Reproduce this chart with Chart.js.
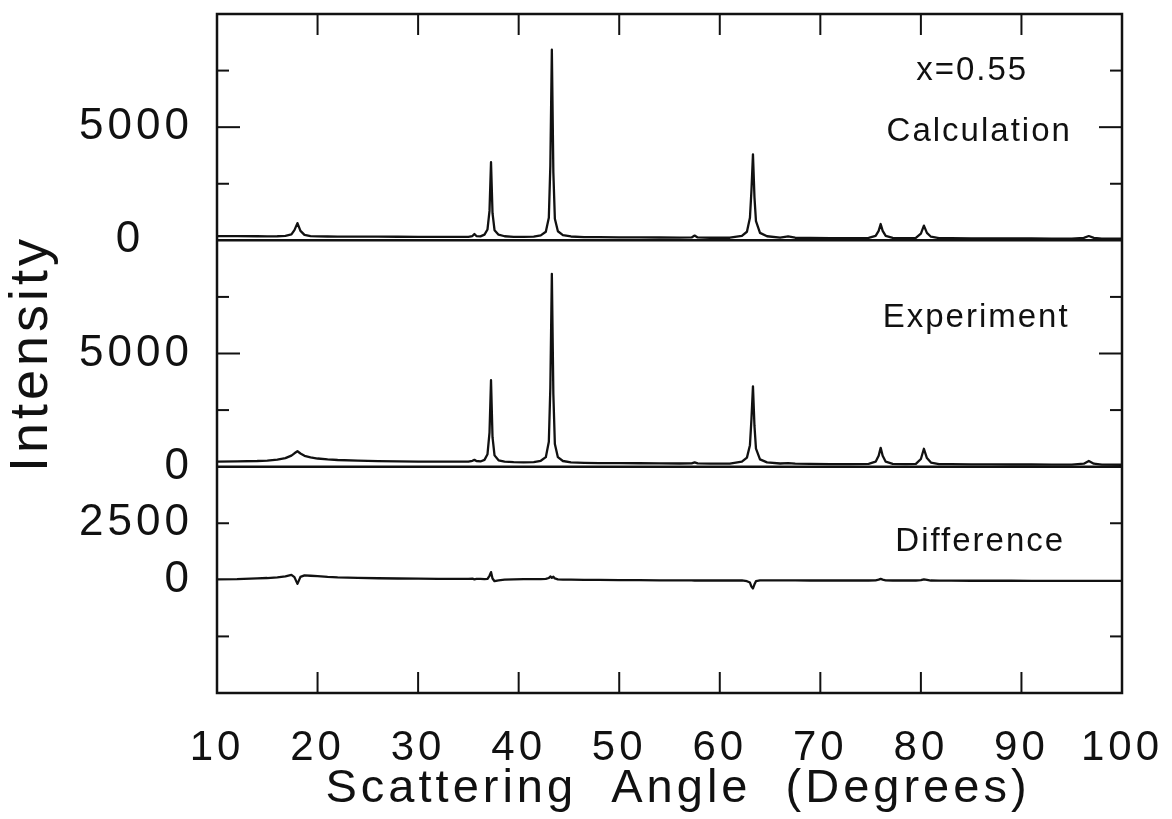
<!DOCTYPE html>
<html>
<head>
<meta charset="utf-8">
<title>Intensity vs scattering angle, x=0.55</title>
<script src="https://cdn.jsdelivr.net/npm/chart.js@4"></script>
<style>
  body { margin: 0; background: #fff; }
</style>
</head>
<body>
<canvas id="myChart" width="1172" height="819"></canvas>
<script>
// scattering angle in degrees (sampled closer together round the peaks)
const angles = [
  10, 12, 14, 15, 16, 16.8, 17.4, 17.7, 18.0, 18.3,
  18.7, 19.3, 20, 21, 22, 24, 26, 28, 30, 32,
  34, 35.0, 35.4, 35.6, 35.8, 36.2, 36.6, 36.9, 37.1, 37.25,
  37.4, 37.6, 38.0, 38.6, 39.5, 40.5, 41.5, 42.2, 42.7, 43.0,
  43.15, 43.3, 43.45, 43.6, 43.9, 44.4, 45.2, 46.5, 48, 50,
  52, 54, 56, 57.2, 57.5, 57.8, 59, 61, 62.2, 62.7,
  63.0, 63.15, 63.3, 63.45, 63.6, 64.0, 64.7, 66, 66.8, 67.5,
  69, 71, 73, 74.8, 75.5, 75.8, 76.0, 76.2, 76.5, 77.2,
  78.5, 79.5, 80.0, 80.3, 80.6, 81.0, 81.8, 83, 85, 87,
  89, 91, 93, 95, 96.2, 96.7, 97.2, 98, 100
];

const calculated = [
  190, 185, 180, 178, 180, 195, 260, 450, 760, 420,
  240, 190, 175, 170, 168, 165, 160, 158, 155, 152,
  150, 155, 190, 280, 190, 175, 250, 480, 1300, 3450,
  1200, 450, 250, 180, 155, 150, 160, 220, 380, 1000,
  3300, 8420, 3000, 950, 400, 230, 170, 145, 140, 135,
  130, 125, 120, 130, 210, 130, 115, 115, 200, 380,
  1000, 2200, 3800, 1900, 850, 330, 180, 120, 170, 115,
  105, 100, 100, 110, 200, 420, 720, 420, 200, 110,
  100, 110, 300, 650, 330, 160, 100, 95, 90, 85,
  80, 80, 75, 75, 110, 190, 110, 75, 70
];

const experiment = [
  220, 230, 250, 270, 310, 380, 490, 590, 680, 580,
  480, 410, 360, 320, 295, 265, 245, 235, 225, 220,
  220, 225, 260, 300, 250, 230, 300, 550, 1500, 3820,
  1300, 500, 280, 220, 200, 190, 200, 260, 420, 1100,
  3500, 8520, 3200, 1000, 420, 250, 190, 170, 160, 155,
  150, 145, 140, 145, 190, 145, 135, 135, 220, 400,
  950, 2100, 3550, 1800, 800, 320, 190, 140, 160, 130,
  120, 115, 115, 125, 220, 480, 830, 480, 220, 125,
  115, 125, 340, 790, 380, 180, 115, 110, 105, 100,
  95, 95, 90, 90, 130, 250, 130, 90, 85
];

const difference = [
  20, 30, 60, 80, 110, 150, 220, 120, -180, 130,
  200, 180, 160, 130, 110, 90, 70, 60, 50, 40,
  40, 45, 50, 20, 40, 40, 30, 40, 180, 340,
  60, -60, -20, 10, 20, 30, 30, 30, 40, 80,
  150, 90, 140, 60, 20, 10, 10, 0, 0, -10,
  -10, -20, -20, -20, -30, -20, -30, -30, -20, -60,
  -120, -300, -380, -200, -60, -20, -20, -20, -20, -20,
  -30, -30, -30, -30, -20, 10, 40, 10, -20, -30,
  -30, -30, -10, 20, 0, -30, -35, -35, -40, -40,
  -40, -45, -45, -45, -45, -45, -45, -45, -50
];

const angleTicks = [10, 20, 30, 40, 50, 60, 70, 80, 90, 100];
const calcTicks = [0, 5000];
const exptTicks = [0, 5000];
const diffTicks = [0, 2500];
// small inward ticks on both sides of each panel
const innerTicks = {
  yCalc: [2500, 5000, 7500],
  yExp: [2500, 5000, 7500],
  yDiff: [-2500, 2500]
};
const longTick = 5000;

const panelNotes = [
  {text: 'x=0.55', axis: 'yCalc', angle: 85.1, value: 7480},
  {text: 'Calculation', axis: 'yCalc', angle: 85.8, value: 4790},
  {text: 'Experiment', axis: 'yExp', angle: 85.5, value: 6580},
  {text: 'Difference', axis: 'yDiff', angle: 85.9, value: 1670}
];

const family = 'Liberation Sans, Arial, Helvetica, sans-serif';
const ink = '#111';

function series(values, axisId) {
  return {
    data: angles.map((a, i) => ({x: a, y: values[i]})),
    yAxisID: axisId,
    borderColor: ink,
    borderWidth: 2.3,
    borderJoinStyle: 'round',
    pointRadius: 0,
    tension: 0,
    fill: false
  };
}

function panelAxis(min, max, tickValues, extra) {
  return Object.assign({
    type: 'linear',
    position: 'left',
    stack: 'panels',
    stackWeight: 1,
    min: min,
    max: max,
    grid: {display: false},
    border: {display: false},
    ticks: {
      color: ink,
      font: {family: family, size: 44},
      padding: 16,
      callback: v => String(v)
    },
    afterBuildTicks: axis => { axis.ticks = tickValues.map(v => ({value: v})); },
    afterFit: axis => {
      axis.width = 217;
      axis.paddingTop = 0;
      axis.paddingBottom = 0;
    }
  }, extra || {});
}

const frameAndTicks = {
  id: 'frameAndTicks',
  beforeDraw(chart) {
    chart.ctx.letterSpacing = '4px';
  },
  afterDatasetsDraw(chart) {
    const {ctx, chartArea: area, scales} = chart;
    const seg = (x1, y1, x2, y2) => {
      ctx.beginPath();
      ctx.moveTo(x1, y1);
      ctx.lineTo(x2, y2);
      ctx.stroke();
    };
    ctx.save();
    ctx.strokeStyle = ink;
    ctx.lineWidth = 2.5;
    ctx.strokeRect(area.left, area.top, area.right - area.left, area.bottom - area.top);
    seg(area.left, scales.yCalc.bottom, area.right, scales.yCalc.bottom);
    seg(area.left, scales.yExp.bottom, area.right, scales.yExp.bottom);

    ctx.lineWidth = 2;
    angleTicks.slice(1, -1).forEach(v => {
      const px = scales.x.getPixelForValue(v);
      seg(px, area.top, px, area.top + 21);
      seg(px, area.bottom, px, area.bottom - 21);
    });
    Object.keys(innerTicks).forEach(id => {
      innerTicks[id].forEach(v => {
        const py = scales[id].getPixelForValue(v);
        const len = v === longTick ? 23 : 12;
        seg(area.left, py, area.left + len, py);
        seg(area.right, py, area.right - len, py);
      });
    });

    ctx.letterSpacing = '2px';
    ctx.fillStyle = ink;
    ctx.font = '33px ' + family;
    ctx.textAlign = 'center';
    ctx.textBaseline = 'middle';
    panelNotes.forEach(n => {
      ctx.fillText(n.text, scales.x.getPixelForValue(n.angle), scales[n.axis].getPixelForValue(n.value));
    });
    ctx.restore();
  }
};

const config = {
  type: 'line',
  data: {
    datasets: [
      series(calculated, 'yCalc'),
      series(experiment, 'yExp'),
      series(difference, 'yDiff')
    ]
  },
  options: {
    responsive: false,
    animation: false,
    layout: {padding: {top: 14, right: 50, bottom: 0, left: 0}},
    plugins: {
      legend: {display: false},
      tooltip: {enabled: false}
    },
    scales: {
      x: {
        type: 'linear',
        position: 'bottom',
        min: 10,
        max: 100,
        grid: {display: false},
        border: {display: false},
        ticks: {color: ink, font: {family: family, size: 42}, padding: 22, maxRotation: 0, autoSkip: false},
        afterBuildTicks: axis => { axis.ticks = angleTicks.map(v => ({value: v})); },
        title: {
          display: true,
          text: ' Scattering  Angle  (Degrees)',
          color: ink,
          font: {family: family, size: 47},
          padding: {top: 0, bottom: 2}
        },
        afterFit: axis => {
          axis.height = 126;
          axis.paddingLeft = 0;
          axis.paddingRight = 0;
        }
      },
      // stacked axes are laid out last-defined at the top
      yDiff: panelAxis(-5000, 5000, diffTicks),
      yExp: panelAxis(0, 10000, exptTicks, {
        title: {
          display: true,
          text: 'Intensity',
          color: ink,
          font: {family: family, size: 54},
          padding: {top: 0, bottom: 0}
        }
      }),
      yCalc: panelAxis(0, 10000, calcTicks)
    }
  },
  plugins: [frameAndTicks]
};

// the top panel's zero sits further left in the original
config.options.scales.yCalc.ticks.callback = v => (v === 0 ? '0   ' : String(v));

const myChart = new Chart(document.getElementById('myChart'), config);
</script>
</body>
</html>
